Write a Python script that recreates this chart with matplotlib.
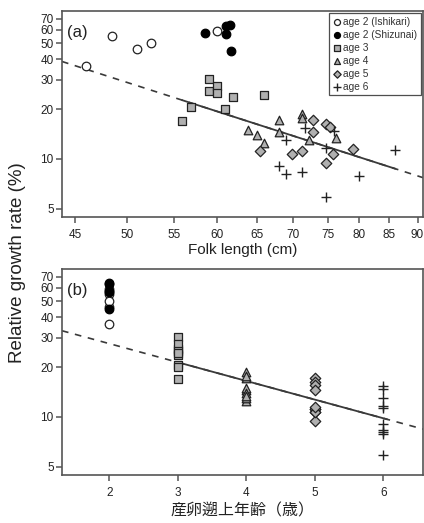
import numpy as np
import matplotlib
matplotlib.use("Agg")
import matplotlib.pyplot as plt
from matplotlib.ticker import FixedLocator, NullLocator, FixedFormatter

plt.rcParams['font.family'] = ['Liberation Sans', 'DejaVu Sans']

# ---- data ----
ishikari_len = [46.0, 48.5, 51.0, 52.5, 60.0]
ishikari_rate = [36.2, 55.3, 46.0, 50.2, 58.8]
shizunai_len = [58.5, 61.0, 61.1, 61.5, 61.7]
shizunai_rate = [57.6, 56.8, 63.3, 64.5, 44.5]
age3_len = [59.0, 59.0, 59.9, 59.9, 61.9, 65.9, 56.9, 60.9, 55.9]
age3_rate = [30.3, 25.7, 27.5, 24.9, 23.5, 24.2, 20.5, 19.9, 17.0]
age4_len = [68.0, 71.2, 71.2, 68.0, 63.9, 65.0, 65.9, 72.3, 76.3]
age4_rate = [17.2, 18.7, 17.6, 14.6, 14.9, 13.9, 12.4, 13.1, 13.3]
age5_len = [72.8, 74.7, 75.3, 72.8, 65.4, 69.8, 71.2, 74.8, 75.8, 78.9]
age5_rate = [17.3, 16.2, 15.5, 14.5, 11.2, 10.7, 11.1, 9.5, 10.7, 11.5]
age6_len = [68.9, 71.6, 76.0, 74.8, 68.0, 68.9, 71.2, 79.9, 74.8, 86.0]
age6_rate = [13.0, 15.3, 14.7, 11.6, 9.1, 8.1, 8.4, 7.9, 5.9, 11.4]

# regression lines
fit_a_logint = 11.99   # ln(rate) = a + b ln(length)
fit_a_slope = -2.205
fit_a_solid = [55.9, 86.0]
fit_b_logint = 3.839   # ln(rate) = a + b * age
fit_b_slope = -0.259
fit_b_solid = [3.0, 6.05]

yticks = [5, 10, 20, 30, 40, 50, 60, 70]
xticks_a = [45, 50, 55, 60, 65, 70, 75, 80, 85, 90]
xticks_b = [2, 3, 4, 5, 6]

legend_labels = ['age 2 (Ishikari)', 'age 2 (Shizunai)', 'age 3', 'age 4', 'age 5', 'age 6']

W, H = 424, 523
fig = plt.figure(figsize=(W / 100, H / 100), dpi=100)

def fr(l, t, r, b):
    return [l / W, 1 - b / H, (r - l) / W, (b - t) / H]

ax_a = fig.add_axes(fr(62, 11, 423, 217))
ax_b = fig.add_axes(fr(62, 269, 423, 475))

spine_col = '#555555'
line_col = '#3a3a3a'
gray_fill = '#b0b0b0'
ms = 38

styles = [
    dict(marker='o', facecolors='white', edgecolors='#222222', linewidths=0.9, s=ms),
    dict(marker='o', facecolors='black', edgecolors='black', linewidths=0.9, s=ms),
    dict(marker='s', facecolors=gray_fill, edgecolors='#222222', linewidths=0.9, s=ms * 0.8),
    dict(marker='^', facecolors=gray_fill, edgecolors='#222222', linewidths=0.9, s=ms),
    dict(marker='D', facecolors=gray_fill, edgecolors='#222222', linewidths=0.9, s=ms * 0.75),
    dict(marker='+', c='#222222', linewidths=1.0, s=ms * 1.6),
]

groups_len = [ishikari_len, shizunai_len, age3_len, age4_len, age5_len, age6_len]
groups_rate = [ishikari_rate, shizunai_rate, age3_rate, age4_rate, age5_rate, age6_rate]
groups_age = [2, 2, 3, 4, 5, 6]

handles = []
for xs, ys, st, lab in zip(groups_len, groups_rate, styles, legend_labels):
    h = ax_a.scatter(xs, ys, label=lab, zorder=3, **st)
    handles.append(h)

for age, ys, st in zip(groups_age, groups_rate, styles):
    ax_b.scatter([age] * len(ys), ys, zorder=3, **st)

# lines panel a
xlim_a = (43.8, 91.0)
xx = np.exp(np.linspace(np.log(xlim_a[0]), np.log(xlim_a[1]), 200))
ax_a.plot(xx, np.exp(fit_a_logint + fit_a_slope * np.log(xx)), color=line_col, lw=1.2,
          ls=(0, (4, 4)), zorder=2)
xs_ = np.exp(np.linspace(np.log(fit_a_solid[0]), np.log(fit_a_solid[1]), 100))
ax_a.plot(xs_, np.exp(fit_a_logint + fit_a_slope * np.log(xs_)), color=line_col, lw=1.3, zorder=2.5)
# lines panel b
xlim_b = (1.31, 6.58)
xb = np.linspace(xlim_b[0], xlim_b[1], 200)
ax_b.plot(xb, np.exp(fit_b_logint + fit_b_slope * xb), color=line_col, lw=1.2,
          ls=(0, (4, 4)), zorder=2)
xbs = np.linspace(fit_b_solid[0], fit_b_solid[1], 100)
ax_b.plot(xbs, np.exp(fit_b_logint + fit_b_slope * xbs), color=line_col, lw=1.3, zorder=2.5)

for ax in (ax_a, ax_b):
    ax.set_yscale('log')
    ax.set_ylim(4.47, 78)
    ax.yaxis.set_major_locator(FixedLocator(yticks))
    ax.yaxis.set_major_formatter(FixedFormatter([str(v) for v in yticks]))
    ax.yaxis.set_minor_locator(NullLocator())
    for sp in ax.spines.values():
        sp.set_color(spine_col)
        sp.set_linewidth(1.2)
    ax.tick_params(axis='both', which='major', direction='out', length=4, width=1.1,
                   color=spine_col, labelsize=8.5, labelcolor='#222222', pad=2)
    ax.tick_params(axis='x', pad=5)

ax_a.set_xscale('log')
ax_a.set_xlim(*xlim_a)
ax_a.xaxis.set_major_locator(FixedLocator(xticks_a))
ax_a.xaxis.set_major_formatter(FixedFormatter([str(v) for v in xticks_a]))
ax_a.xaxis.set_minor_locator(NullLocator())
ax_a.set_xlabel('Folk length (cm)', fontsize=11, color='#222222', labelpad=1)

ax_b.set_xlim(*xlim_b)
ax_b.set_xticks(xticks_b)
ax_b.set_xticklabels([str(v) for v in xticks_b])
ax_b.set_xlabel('産卵遡上年齢（歳）', fontsize=11.5, color='#222222', labelpad=2,
                family=['Noto Sans CJK JP', 'DejaVu Sans'])

ax_a.text(0.013, 0.93, '(a)', transform=ax_a.transAxes, fontsize=12, va='top', ha='left', color='#222222')
ax_b.text(0.013, 0.93, '(b)', transform=ax_b.transAxes, fontsize=12, va='top', ha='left', color='#222222')

fig.text(18 / W, 1 - 263 / H, 'Relative growth rate (%)', rotation=90, fontsize=13.5,
         va='center', ha='center', color='#222222')

leg = ax_a.legend(handles=handles, loc='upper right', fontsize=7.3, frameon=True, fancybox=False,
                  edgecolor='#222222', borderaxespad=0.2, handletextpad=0.1, labelspacing=0.3,
                  borderpad=0.35, markerscale=0.7, scatterpoints=1, handlelength=1.0)
leg.get_frame().set_linewidth(0.9)
for t in leg.get_texts():
    t.set_color('#333333')

fig.savefig('out.png', dpi=100, facecolor='white')
